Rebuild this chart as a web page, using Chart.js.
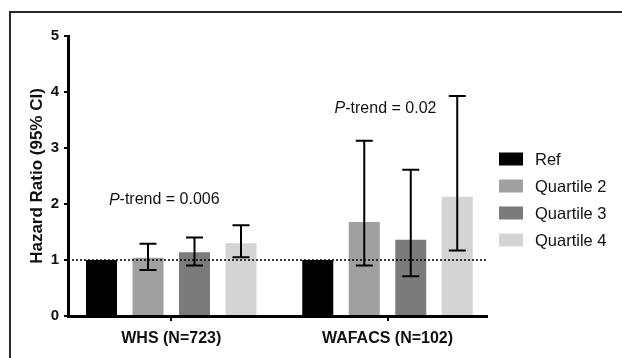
<!DOCTYPE html>
<html>
<head>
<meta charset="utf-8">
<script src="https://cdn.jsdelivr.net/npm/chart.js@4.4.0/dist/chart.umd.min.js"></script>
<style>
  html, body { margin: 0; padding: 0; background: #fff; }
  #wrap { width: 622px; height: 358px; position: relative; }
</style>
</head>
<body>
<div id="wrap"><canvas id="c" width="622" height="358"></canvas></div>
<script>
// ---- data ----
const categories = ["WHS (N=723)", "WAFACS (N=102)"];
const seriesNames = ["Ref", "Quartile 2", "Quartile 3", "Quartile 4"];
const refValues = [1, 1];
const q2Values = [1.04, 1.68];
const q3Values = [1.14, 1.36];
const q4Values = [1.30, 2.13];
const q2Lower = [0.82, 0.90];
const q2Upper = [1.29, 3.13];
const q3Lower = [0.90, 0.71];
const q3Upper = [1.40, 2.61];
const q4Lower = [1.05, 1.17];
const q4Upper = [1.62, 3.93];
const pTrendValues = ["0.006", "0.02"];
const yTicks = [0, 1, 2, 3, 4, 5];

const colors = ["#000000", "#a0a0a0", "#7b7b7b", "#d4d4d4"];
const allValues = [refValues, q2Values, q3Values, q4Values];
const lowers = [null, q2Lower, q3Lower, q4Lower];
const uppers = [null, q2Upper, q3Upper, q4Upper];

const FONT = "'Liberation Sans', Arial, Helvetica, sans-serif";

const datasets = seriesNames.map((n, i) => ({
  label: n,
  data: allValues[i],
  backgroundColor: colors[i],
  borderWidth: 0,
  barPercentage: 0.667,
  categoryPercentage: 0.86
}));

const decorPlugin = {
  id: 'decor',
  beforeDraw(chart) {
    const ctx = chart.ctx;
    ctx.save();
    ctx.strokeStyle = '#2a2a2a';
    ctx.lineWidth = 2;
    ctx.beginPath();
    ctx.moveTo(10, 358);
    ctx.lineTo(10, 12);
    ctx.lineTo(622, 12);
    ctx.stroke();
    ctx.restore();
  },
  afterDatasetsDraw(chart) {
    const ctx = chart.ctx;
    const ys = chart.scales.y, xs = chart.scales.x;
    const ca = chart.chartArea;
    ctx.save();
    // dotted reference line at HR = 1
    ctx.strokeStyle = '#000';
    ctx.lineWidth = 1.5;
    ctx.setLineDash([2, 2]);
    const y1 = ys.getPixelForValue(1);
    ctx.beginPath();
    ctx.moveTo(ca.left, y1);
    ctx.lineTo(ca.right, y1);
    ctx.stroke();
    ctx.setLineDash([]);
    // error bars
    ctx.lineWidth = 2;
    for (let d = 1; d < 4; d++) {
      const meta = chart.getDatasetMeta(d);
      meta.data.forEach((bar, j) => {
        const x = bar.x;
        const yl = ys.getPixelForValue(lowers[d][j]);
        const yu = ys.getPixelForValue(uppers[d][j]);
        ctx.beginPath();
        ctx.moveTo(x, yl); ctx.lineTo(x, yu);
        ctx.moveTo(x - 8.5, yl); ctx.lineTo(x + 8.5, yl);
        ctx.moveTo(x - 8.5, yu); ctx.lineTo(x + 8.5, yu);
        ctx.stroke();
      });
    }
    // P-trend annotations
    const annY = [2.07, 3.7];
    const annDx = [-7, -2];
    ctx.fillStyle = '#111';
    ctx.textBaseline = 'middle';
    pTrendValues.forEach((v, j) => {
      const rest = "-trend = " + v;
      ctx.font = "italic 16px " + FONT;
      const wP = ctx.measureText("P").width;
      ctx.font = "16px " + FONT;
      const wR = ctx.measureText(rest).width;
      const cx = xs.getPixelForValue(j) + annDx[j];
      const x0 = cx - (wP + wR) / 2;
      const y = ys.getPixelForValue(annY[j]);
      ctx.font = "italic 16px " + FONT;
      ctx.fillText("P", x0, y);
      ctx.font = "16px " + FONT;
      ctx.fillText(rest, x0 + wP, y);
    });
    // legend
    ctx.font = "16.5px " + FONT;
    seriesNames.forEach((n, i) => {
      const cy = 159 + i * 27;
      ctx.fillStyle = colors[i];
      ctx.fillRect(499, cy - 6.5, 24, 13);
      ctx.fillStyle = '#111';
      ctx.fillText(n, 535, cy + 1);
    });
    ctx.restore();
  }
};

new Chart(document.getElementById('c'), {
  type: 'bar',
  data: { labels: categories, datasets },
  options: {
    responsive: false,
    animation: false,
    devicePixelRatio: 1,
    layout: { padding: { left: 27, top: 36, right: 135, bottom: 0 } },
    plugins: { legend: { display: false }, tooltip: { enabled: false } },
    scales: {
      x: {
        offset: true,
        // GraphPad-style uneven end gaps: widen category spacing slightly
        afterBuildTicks(s) { s._startValue = -0.4775; s._valueRange = 1.9376; },
        grid: { display: true, offset: false, drawOnChartArea: false, drawTicks: true, tickLength: 5, color: '#000', lineWidth: 2 },
        border: { display: true, color: '#000', width: 3 },
        ticks: { color: '#111', font: { family: FONT, size: 16, weight: 'bold' }, padding: 8 },
        afterFit(s) { s.height = 42; }
      },
      y: {
        min: 0, max: 5,
        afterBuildTicks(s) { s.ticks = yTicks.map(v => ({ value: v })); },
        grid: { display: true, drawOnChartArea: false, drawTicks: true, tickLength: 4, color: '#000', lineWidth: 2 },
        border: { display: true, color: '#000', width: 3 },
        ticks: { color: '#111', font: { family: FONT, size: 15, weight: 'bold' }, padding: 5 },
        title: { display: true, text: 'Hazard Ratio (95% CI)', color: '#111', font: { family: FONT, size: 17, weight: 'bold' }, padding: { top: 0, bottom: 2 } },
        afterFit(s) { s.width = 68 - 27; }
      }
    }
  },
  plugins: [decorPlugin]
});
</script>
</body>
</html>
